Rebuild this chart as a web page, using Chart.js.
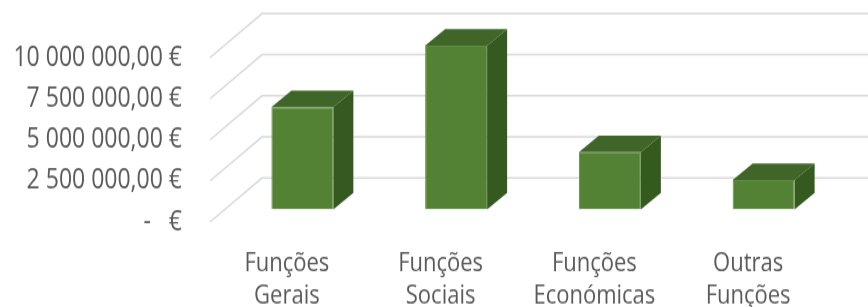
<!DOCTYPE html>
<html>
<head>
<meta charset="utf-8">
<script src="https://cdn.jsdelivr.net/npm/chart.js@4"></script>
<style>
    html, body { margin: 0; padding: 0; background: #fff; }
    body { height: 307px; }
    /* the reference is stretched vertically, so draw at 256px high and scale up */
    #wrap { width: 868px; height: 256px; transform: scaleY(1.2); transform-origin: 0 0; }
</style>
</head>
<body>
<div id="wrap"><canvas id="chart"></canvas></div>
<script>
// Data
const categories = [
    ['Funções', 'Gerais'],
    ['Funções', 'Sociais'],
    ['Funções', 'Económicas'],
    ['Outras', 'Funções'],
];
const values = [6220000, 9950000, 3480000, 1790000];
const tickValues = [0, 2500000, 5000000, 7500000, 10000000];
const tickLabels = ['-   €', '2 500 000,00 €', '5 000 000,00 €', '7 500 000,00 €', '10 000 000,00 €'];

// 3D look
const WALL_DX = 52, WALL_DY = -36.7;   // back wall offset
const BAR_DX = 15.5, BAR_DY = -10.6;   // bar front plane offset
const DEPTH_DX = 20, DEPTH_DY = -13.75; // bar depth
const GRID_COLOR = '#d9d9d9';
const FRONT = '#548235', TOP = '#3f6628', SIDE = '#355a20';

/**
 * Fake 3D: walls, gridlines and box faces
 */
const box3d = {
    id: 'box3d',
    beforeDatasetsDraw(chart) {
        const { ctx, chartArea, scales } = chart;
        ctx.save();
        ctx.strokeStyle = GRID_COLOR;
        ctx.lineWidth = 1.5;
        scales.y.ticks.forEach(t => {
            const y = scales.y.getPixelForValue(t.value);
            ctx.beginPath();
            ctx.moveTo(chartArea.left, y);
            ctx.lineTo(chartArea.left + WALL_DX, y + WALL_DY);
            ctx.lineTo(chartArea.right + WALL_DX, y + WALL_DY);
            ctx.stroke();
        });
        ctx.restore();

        // bars sit further back than the front plane
        ctx.save();
        ctx.translate(BAR_DX, BAR_DY);
    },
    afterDatasetsDraw(chart) {
        const { ctx } = chart;
        const meta = chart.getDatasetMeta(0);
        meta.data.forEach(bar => {
            const { x, y, base, width } = bar.getProps(['x', 'y', 'base', 'width'], true);
            const l = x - width / 2, r = x + width / 2;

            ctx.fillStyle = TOP;
            ctx.beginPath();
            ctx.moveTo(l, y);
            ctx.lineTo(r, y);
            ctx.lineTo(r + DEPTH_DX, y + DEPTH_DY);
            ctx.lineTo(l + DEPTH_DX, y + DEPTH_DY);
            ctx.closePath();
            ctx.fill();

            ctx.fillStyle = SIDE;
            ctx.beginPath();
            ctx.moveTo(r, y);
            ctx.lineTo(r + DEPTH_DX, y + DEPTH_DY);
            ctx.lineTo(r + DEPTH_DX, base + DEPTH_DY);
            ctx.lineTo(r, base);
            ctx.closePath();
            ctx.fill();
        });
        ctx.restore();
    },
};

const ctx = document.getElementById('chart');
new Chart(ctx, {
    type: 'bar',
    data: {
        labels: categories,
        datasets: [{
            data: values,
            backgroundColor: FRONT,
            borderColor: '#5f8f40',
            borderWidth: 1,
            categoryPercentage: 1,
            barPercentage: 0.403,
        }],
    },
    options: {
        responsive: true,
        maintainAspectRatio: false,
        animation: false,
        events: [],
        layout: { padding: { top: 48, right: 43, left: 0, bottom: 0 } },
        plugins: {
            legend: { display: false },
            tooltip: { enabled: false },
        },
        scales: {
            x: {
                grid: { display: false, drawTicks: false },
                border: { display: false },
                ticks: {
                    color: '#595959',
                    font: { family: 'Open Sans', size: 22, lineHeight: 1.2 },
                    padding: 22,
                    maxRotation: 0,
                    autoSkip: false,
                },
                afterFit: (scale) => { scale.height = 71; },
            },
            y: {
                min: 0,
                max: 10000000,
                grid: { display: false, drawTicks: false },
                border: { display: false },
                afterBuildTicks: (scale) => {
                    scale.ticks = tickValues.map(v => ({ value: v }));
                },
                ticks: {
                    color: '#595959',
                    font: { family: 'Open Sans', size: 23 },
                    padding: 28,
                    autoSkip: false,
                    callback: (value, index) => tickLabels[index],
                },
                afterFit: (scale) => { scale.width = 210; },
            },
        },
    },
    plugins: [box3d],
});
</script>
</body>
</html>
